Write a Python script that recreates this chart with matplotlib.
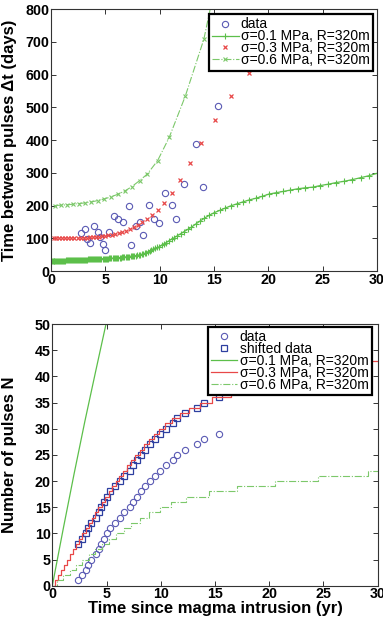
import numpy as np
import matplotlib.pyplot as plt

plt.rcParams['font.family'] = ['Liberation Sans', 'DejaVu Sans']

# ---- observed pulses ----
# top panel: time of pulse (yr) and interval to previous pulse (days)
obs_t = [2.76, 3.10, 3.30, 3.60, 4.00, 4.30, 4.50, 4.80, 5.00, 5.30, 5.80, 6.20, 6.60, 7.20,
         7.40, 7.80, 8.20, 8.50, 9.00, 9.50, 9.90, 10.50, 11.10, 11.50, 12.20, 13.30, 14.00, 15.40]
obs_dt = [115, 127, 97, 85, 136, 120, 103, 83, 64, 120, 168, 159, 151, 197,
          80, 136, 151, 110, 202, 159, 148, 238, 202, 160, 267, 389, 256, 504]

# bottom panel: cumulative number of pulses
cum_t = [2.40, 2.76, 3.10, 3.30, 3.60, 4.00, 4.30, 4.50, 4.80, 5.00, 5.30, 5.80, 6.20, 6.60, 7.20,
         7.40, 7.80, 8.20, 8.50, 9.00, 9.50, 9.90, 10.50, 11.10, 11.50, 12.20, 13.30, 14.00, 15.40]
cum_n = list(range(1, 30))
shift_n = list(range(8, 37))

# ---- model sigma = 0.1 MPa (top: pulse times / intervals) ----
m1_t = [0.05, 0.14, 0.23, 0.31, 0.40, 0.49, 0.58, 0.67, 0.75, 0.84, 0.93, 1.02,
        1.11, 1.19, 1.28, 1.37, 1.46, 1.55, 1.64, 1.73, 1.82, 1.91, 2.00,
        2.09, 2.18, 2.27, 2.36, 2.45, 2.54, 2.63, 2.72, 2.81, 2.90, 2.99,
        3.09, 3.18, 3.28, 3.37, 3.47, 3.56, 3.66, 3.75, 3.85, 3.94,
        4.04, 4.14, 4.24, 4.34, 4.44, 4.54, 4.64, 4.74, 4.84, 4.94,
        5.04, 5.14, 5.25, 5.35, 5.46, 5.56, 5.67, 5.77, 5.88, 5.98,
        6.09, 6.20, 6.31, 6.42, 6.53, 6.64, 6.75, 6.86, 6.97,
        7.09, 7.21, 7.32, 7.44, 7.56, 7.68, 7.81, 7.93,
        8.06, 8.19, 8.33, 8.47, 8.61, 8.76, 8.91,
        9.07, 9.23, 9.40, 9.58, 9.77, 9.97,
        10.17, 10.38, 10.60, 10.84, 11.09, 11.36, 11.64, 11.94,
        12.25, 12.58, 12.93, 13.30, 13.69, 14.11, 14.55, 15.02, 15.51,
        16.02, 16.55, 17.10, 17.66, 18.24, 18.83, 19.44, 20.06, 20.70,
        21.35, 22.02, 22.70, 23.39, 24.09, 24.79, 25.51, 26.24, 26.98,
        27.73, 28.49, 29.27, 29.98]
m1_dt = [32] * 12 + \
        [32, 32, 32, 33, 33, 33, 33, 33, 33, 33, 33] + \
        [33, 33, 33, 34, 34, 34, 34, 34, 35, 35, 35] + \
        [35, 35, 35, 36, 36, 36, 36, 36, 36, 36] + \
        [36, 36, 37, 37, 37, 37, 37, 38, 38, 38] + \
        [38, 38, 38, 39, 39, 39, 39, 40, 40, 40] + \
        [40, 41, 41, 41, 42, 42, 42, 43, 43] + \
        [43, 44, 45, 45, 46, 46, 47, 48] + \
        [49, 50, 51, 52, 54, 56, 58] + \
        [60, 63, 66, 69, 72, 74] + \
        [78, 82, 87, 92, 97, 102, 108, 114] + \
        [120, 127, 134, 143, 152, 161, 170, 178, 185] + \
        [192, 199, 205, 211, 217, 222, 228, 235, 239] + \
        [243, 247, 251, 254, 256, 261, 265, 270, 274] + \
        [279, 285, 291, 298]

# ---- model sigma = 0.3 MPa ----
m3_t = [0.23, 0.50, 0.78, 1.05, 1.33, 1.60, 1.88, 2.16, 2.44, 2.72, 3.00, 3.28, 3.56,
        3.84, 4.12, 4.41, 4.70, 4.99, 5.29, 5.59, 5.90, 6.22, 6.55, 6.89, 7.24, 7.61,
        8.00, 8.41, 8.85, 9.32, 9.83, 10.40, 11.10, 11.90, 12.80, 13.80, 15.10, 16.60,
        18.20, 20.10, 22.10, 24.30]
m3_dt = [100, 100, 100, 100, 100, 100, 101, 101, 101, 101, 102, 102, 103,
         103, 104, 105, 106, 107, 109, 111, 113, 116, 119, 123, 128, 134,
         141, 150, 160, 172, 187, 209, 238, 278, 331, 392, 462, 533,
         604, 690, 740, 775]

# ---- model sigma = 0.6 MPa ----
m6_t = [0.37, 0.92, 1.47, 2.02, 2.58, 3.14, 3.71, 4.29, 4.88, 5.49, 6.12, 6.78,
        7.45, 8.15, 8.86, 9.81, 10.88, 12.36, 14.07, 15.60]
m6_dt = [200, 201, 202, 204, 206, 208, 211, 215, 220, 226, 234, 244,
         258, 276, 296, 337, 408, 534, 708, 950]

# bottom panel model curves (cumulative pulse number)
n1_t = [0.0, 1.0, 2.0, 3.0, 4.0, 4.95]
n1_n = [0, 10.8, 21.3, 31.4, 41.0, 50]

n3_t = [0.0, 0.25, 0.52, 0.80, 1.08, 1.36, 1.64, 1.92, 2.20, 2.48, 2.77, 3.06, 3.35, 3.64,
        3.94, 4.24, 4.55, 4.86, 5.18, 5.50, 5.83, 6.17, 6.52, 6.88, 7.25, 7.64, 8.04,
        8.46, 8.90, 9.37, 9.87, 10.42, 11.05, 11.78, 12.62, 13.60, 14.75, 16.50, 18.20,
        20.10, 22.10, 24.30, 26.70, 29.20, 30.0]
n3_n = list(range(0, 44)) + [43]

n6_t = [0.0, 0.45, 1.02, 1.60, 2.18, 2.77, 3.37, 3.98, 4.60, 5.24, 5.90, 6.58, 7.29, 8.04,
        8.95, 9.90, 10.90, 12.30, 14.40, 17.05, 20.50, 24.50, 29.10, 30.0]
n6_n = list(range(0, 23)) + [22]

blue_c = '#5a5ab4'
sq_c = '#2d3fa0'
green_c = '#5cbf4a'
green2_c = '#7cc86a'
red_c = '#e84848'

fig = plt.figure(figsize=(3.83, 6.23), dpi=100)
ax1 = fig.add_axes([0.1332, 0.565, 0.851, 0.4205])
ax2 = fig.add_axes([0.1366, 0.0599, 0.8496, 0.42])

# ---- top panel ----
ax1.plot(obs_t, obs_dt, 'o', mfc='none', mec=blue_c, ms=4.5, mew=0.8, label='data')
ax1.plot(m1_t, m1_dt, '-+', color=green_c, lw=0.9, ms=4.5, mew=0.8,
         label='σ=0.1 MPa, R=320m')
ax1.plot(m3_t, m3_dt, 'x', color=red_c, ms=3, mew=0.9, label='σ=0.3 MPa, R=320m')
ax1.plot(m6_t, m6_dt, '-.x', color=green2_c, lw=0.8, ms=3, mew=0.8,
         label='σ=0.6 MPa, R=320m')
ax1.set_xlim(0, 30)
ax1.set_ylim(0, 800)
ax1.set_yticks(np.arange(0, 801, 100))
ax1.set_ylabel('Time between pulses Δt (days)', fontsize=12, fontweight='bold')
ax1.yaxis.set_label_coords(-0.104, 0.5)

# ---- bottom panel ----
ax2.plot(cum_t, cum_n, 'o', mfc='none', mec=blue_c, ms=4.5, mew=0.8, label='data')
ax2.plot(cum_t, shift_n, 's', mfc='none', mec=sq_c, ms=4.5, mew=0.9, label='shifted data')
ax2.plot(n1_t, n1_n, '-', color=green_c, lw=0.9, label='σ=0.1 MPa, R=320m')
ax2.plot(n3_t, n3_n, '-', color=red_c, lw=0.9, drawstyle='steps-post',
         label='σ=0.3 MPa, R=320m')
ax2.plot(n6_t, n6_n, '-.', color=green2_c, lw=0.8, drawstyle='steps-post',
         label='σ=0.6 MPa, R=320m')
ax2.set_xlim(0, 30)
ax2.set_ylim(0, 50)
ax2.set_yticks(np.arange(0, 51, 5))
ax2.set_ylabel('Number of pulses N', fontsize=12, fontweight='bold')
ax2.yaxis.set_label_coords(-0.1085, 0.5)
ax2.set_xlabel('Time since magma intrusion (yr)', fontsize=12, fontweight='bold')
ax2.xaxis.set_label_coords(0.5, -0.058)

for ax in (ax1, ax2):
    ax.set_xticks(np.arange(0, 31, 5))
    ax.tick_params(direction='in', length=3.5, width=0.7, top=True, right=True,
                   labelsize=10.3, pad=1.2, color='#333333')
    for lab in ax.get_xticklabels() + ax.get_yticklabels():
        lab.set_fontweight('bold')
    for sp in ax.spines.values():
        sp.set_linewidth(0.8)
        sp.set_color('#333333')

# tight MATLAB-style legend rows
leg_kw = dict(loc='upper right', fontsize=10, frameon=True, fancybox=False,
              handlelength=1.9, handletextpad=0.15, borderpad=0.25,
              labelspacing=-0.15, borderaxespad=0, framealpha=1)
l1 = ax1.legend(bbox_to_anchor=(0.988, 0.981), **leg_kw)
l2 = ax2.legend(bbox_to_anchor=(0.982, 0.99), **leg_kw)
for lg in (l1, l2):
    lg.get_frame().set_edgecolor('black')
    lg.get_frame().set_linewidth(1.6)

fig.savefig('out.png', dpi=100)
